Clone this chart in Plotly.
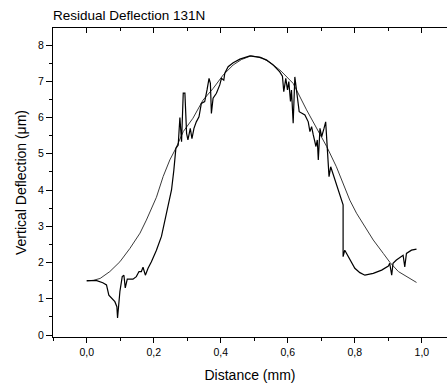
import plotly.graph_objects as go

# Measured residual deflection (noisy profile)
x_meas = [0.0, 0.03, 0.048, 0.059, 0.066, 0.074, 0.084, 0.09, 0.092, 0.099, 0.106, 0.111,
          0.115, 0.121, 0.138, 0.148, 0.156, 0.163, 0.168, 0.175, 0.183, 0.193, 0.208, 0.223,
          0.238, 0.253, 0.26, 0.266, 0.273, 0.278, 0.283, 0.288, 0.293, 0.298, 0.302, 0.309,
          0.314, 0.32, 0.327, 0.335, 0.342, 0.352, 0.359, 0.365, 0.369, 0.372, 0.377, 0.387,
          0.397, 0.402, 0.409, 0.412, 0.422, 0.437, 0.457, 0.487, 0.516, 0.536, 0.556, 0.576,
          0.584, 0.588, 0.594, 0.599, 0.603, 0.608, 0.611, 0.616, 0.621, 0.626, 0.634, 0.651,
          0.661, 0.666, 0.671, 0.676, 0.684, 0.688, 0.691, 0.696, 0.701, 0.708, 0.713, 0.723,
          0.728, 0.765, 0.765, 0.77, 0.785, 0.8, 0.815, 0.83, 0.855, 0.88, 0.9, 0.904, 0.91,
          0.914, 0.924, 0.939, 0.944, 0.949, 0.954, 0.969, 0.984]
y_meas = [1.5, 1.5, 1.44, 1.38, 1.1, 1.02, 0.92, 0.78, 0.47, 1.2, 1.61, 1.65,
          1.3, 1.54, 1.54, 1.61, 1.75, 1.75, 1.87, 1.65, 1.84, 2.02, 2.34, 2.72,
          3.36, 4.0, 4.55, 5.15, 5.24, 6.0, 5.33, 6.67, 6.67, 5.56, 5.38, 5.7,
          5.42, 5.7, 5.88, 6.02, 6.39, 6.44, 6.76, 7.08, 6.94, 6.11, 6.53, 6.67,
          6.9, 7.08, 7.03, 7.22, 7.4, 7.51, 7.61, 7.7, 7.66, 7.59, 7.45, 7.26,
          7.14, 6.71, 7.08, 6.76, 6.99, 6.44, 6.76, 5.84, 7.12, 6.71, 6.16, 6.07,
          5.88, 5.61, 5.75, 5.52, 5.2, 5.38, 4.83, 5.7, 5.47, 5.7, 5.88, 4.37,
          4.64, 3.59, 2.16, 2.34, 2.07, 1.84, 1.72, 1.65, 1.7, 1.79, 1.9, 1.98, 1.65,
          1.98, 2.07, 2.18, 2.2, 1.88, 2.25, 2.34, 2.37]

# Smooth fitted profile
x_fit = [0.0, 0.02, 0.04, 0.069, 0.099, 0.129, 0.159, 0.178, 0.208, 0.228, 0.248, 0.266,
         0.288, 0.317, 0.347, 0.377, 0.407, 0.437, 0.462, 0.49, 0.52, 0.55, 0.58, 0.616,
         0.656, 0.686, 0.716, 0.745, 0.785, 0.805, 0.83, 0.855, 0.885, 0.905, 0.93, 0.954, 0.984]
y_fit = [1.49, 1.51, 1.56, 1.75, 2.02, 2.39, 2.81, 3.17, 3.8, 4.37, 4.83, 5.15,
         5.61, 5.98, 6.48, 6.8, 7.17, 7.45, 7.6, 7.7, 7.66, 7.5, 7.28, 6.94,
         6.21, 5.7, 5.2, 4.64, 3.72, 3.36, 2.99, 2.62, 2.25, 2.0, 1.75, 1.61, 1.45]

title_text = "Residual Deflection 131N"
x_title = "Distance (mm)"
y_title = "Vertical Deflection (\u03bcm)"

FONT = "Liberation Sans, Arial, sans-serif"
XR = [-0.1006, 1.075]
YR = [-0.055, 8.469]

fig = go.Figure()
fig.add_trace(go.Scatter(x=x_fit, y=y_fit, mode="lines",
                         line=dict(color="#3a3a3a", width=1), showlegend=False))
fig.add_trace(go.Scatter(x=x_meas, y=y_meas, mode="lines",
                         line=dict(color="black", width=1.2), showlegend=False))
# dummy trace on the top axis so that it is drawn
fig.add_trace(go.Scatter(x=[None], y=[None], xaxis="x2", yaxis="y",
                         mode="lines", showlegend=False, hoverinfo="skip"))

fig.update_layout(
    width=447, height=387,
    margin=dict(l=53, r=0, t=28, b=50),
    paper_bgcolor="white", plot_bgcolor="white",
    separators=", ",
    font=dict(family=FONT, color="black", size=10),
    title=dict(text=title_text, x=53/447, xanchor="left", xref="container",
               y=1 - 15/387, yanchor="middle", yref="container",
               font=dict(family=FONT, size=13.5, color="black")),
    xaxis=dict(range=XR, showgrid=False, zeroline=False, showline=True,
               linecolor="black", linewidth=1,
               ticks="outside", ticklen=5, tickwidth=1, tickcolor="black",
               tick0=0, dtick=0.2, tickformat=".1f",
               tickfont=dict(size=10.5, family=FONT),
               minor=dict(ticks="outside", ticklen=3, tickwidth=1, tickcolor="black",
                          tick0=0, dtick=0.1, showgrid=False),
               title=dict(text=x_title, font=dict(size=14, family=FONT), standoff=13)),
    xaxis2=dict(range=XR, overlaying="x", side="top", showgrid=False, zeroline=False,
                showline=True, linecolor="black", linewidth=1,
                ticks="inside", ticklen=5, tickwidth=1, tickcolor="black",
                tick0=0, dtick=0.2, showticklabels=False,
                minor=dict(ticks="inside", ticklen=3, tickwidth=1, tickcolor="black",
                           tick0=0, dtick=0.1, showgrid=False)),
    yaxis=dict(range=YR, showgrid=False, zeroline=False, showline=True,
               linecolor="black", linewidth=1,
               ticks="outside", ticklen=6, tickwidth=1, tickcolor="black",
               tick0=0, dtick=1, tickformat="d",
               tickfont=dict(size=10.5, family=FONT),
               minor=dict(ticks="outside", ticklen=3, tickwidth=1, tickcolor="black",
                          tick0=0, dtick=0.5, showgrid=False),
               title=dict(text=y_title, font=dict(size=14, family=FONT), standoff=8)),
)

fig.write_html("out.html")
